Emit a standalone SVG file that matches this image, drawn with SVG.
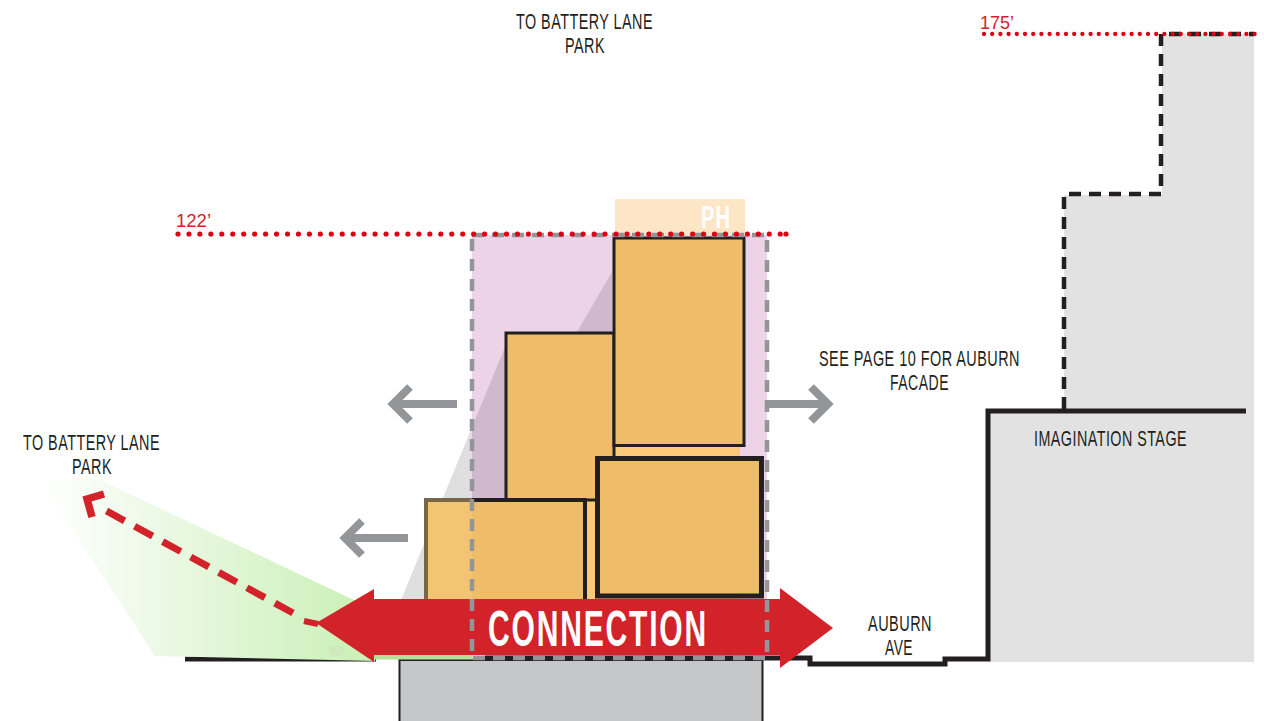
<svg xmlns="http://www.w3.org/2000/svg" width="1264" height="721" viewBox="0 0 1264 721">
<style>
.lb{font-family:"Liberation Sans Narrow","Liberation Sans",Arial,sans-serif;font-size:21.5px;letter-spacing:.7px;fill:#231f20}
.el{font-family:"Liberation Sans",Arial,sans-serif;font-size:18px;fill:#d2232a}
.hv{font-family:"Liberation Sans Narrow","Liberation Sans",Arial,sans-serif;font-weight:700;fill:#fff}
.bld{fill:#efbd68;stroke:#231f20}
.ga{fill:none;stroke:#939598;stroke-width:8}
.dot{fill:none;stroke:#dc0014;stroke-linecap:round}
</style>
<defs>
<linearGradient id="gr" gradientUnits="userSpaceOnUse" x1="40" y1="0" x2="375" y2="0">
<stop offset="0" stop-color="#fff"/><stop offset=".35" stop-color="#ecf9e6"/><stop offset="1" stop-color="#c8f0b4"/>
</linearGradient>
</defs>
<g id="site">
<path d="M185,659H376" fill="none" stroke="#231f20" stroke-width="5"/>
<polygon points="40,480 100,480 375,610 375,661 155,656" fill="url(#gr)"/>
<path d="M328,648l10,-3l8,5l-4,5l-10,1z" fill="#cfe9bd"/>
<rect x="399.500" y="660" width="363" height="62" fill="#c6c7c9" stroke="#231f20" stroke-width="2"/>
<rect x="374" y="655" width="111" height="4.500" fill="#b5e29b"/>
<polygon points="988,411 1064,411 1064,195 1162,195 1162,34 1254,34 1254,662 988,662" fill="#e2e2e2"/>
</g>
<g id="envelope">
<rect x="472" y="235" width="295" height="423" fill="#edd3e8"/>
<rect x="615" y="199" width="130" height="36" fill="#fce6c6"/>
<polygon points="612,272 577,332 505,347 401,600 612,600" fill="#231f20" fill-opacity=".14"/>
<text class="hv" x="701" y="228" font-size="31" letter-spacing="1.500" textLength="30" lengthAdjust="spacingAndGlyphs">PH</text>
<rect x="585" y="446" width="155" height="154" fill="#fcc97a"/>
</g>
<g id="bar-2"><rect class="bld" x="506" y="333" width="108" height="167" stroke-width="3"/></g>
<g id="bar-1"><rect class="bld" x="614" y="238" width="130" height="207.500" stroke-width="3"/></g>
<g id="bar-4">
<rect class="bld" x="426" y="500" width="159" height="101" stroke-width="4"/>
<rect x="428" y="502" width="44" height="99" fill="#f3c473"/>
<path d="M472,500H426V600" fill="none" stroke="#7a6548" stroke-width="4"/>
</g>
<g id="bar-3"><rect class="bld" x="597.500" y="458.500" width="164" height="137.500" stroke-width="5"/></g>
<g id="connectors">
<path d="M485,658H810V664H945V659H988V411H1246" fill="none" stroke="#231f20" stroke-width="5"/>
<path d="M1064,409V194H1161V34H1254" fill="none" stroke="#231f20" stroke-width="4.500" stroke-dasharray="12 8"/>
<polygon points="316,623 374,589 374,599 780,599 780,588 833,628 780,668 780,655 374,655 374,662" fill="#d2232a"/>
<path d="M293,613L103,509" fill="none" stroke="#d2232a" stroke-width="7" stroke-dasharray="20.600 11.400"/>
<path d="M304,621L318,624" fill="none" stroke="#d2232a" stroke-width="6"/>
<path d="M104,494L87,499L92,517" fill="none" stroke="#d2232a" stroke-width="7.500"/>
<rect x="472" y="235" width="295" height="423" fill="none" stroke="#939598" stroke-width="4.500" stroke-dasharray="12 8"/>
<path class="ga" d="M457,404H393M410,387L393,404L410,421"/>
<path class="ga" d="M408,538H345M362,521L345,538L362,555"/>
<path class="ga" d="M765,404H828M811,387L828,404L811,421"/>
<path class="dot" d="M178,234H781M786,234h.01" stroke-width="5.200" stroke-dasharray="0 10.950"/>
<path class="dot" d="M984,34H1255" stroke-width="4.300" stroke-dasharray="0 8.200"/>
</g>
<g id="labels">
<text class="lb" x="516" y="29" textLength="137" lengthAdjust="spacingAndGlyphs">TO BATTERY LANE</text>
<text class="lb" x="565" y="53" textLength="40" lengthAdjust="spacingAndGlyphs">PARK</text>
<text class="lb" x="23" y="450" textLength="137" lengthAdjust="spacingAndGlyphs">TO BATTERY LANE</text>
<text class="lb" x="72" y="474" textLength="40" lengthAdjust="spacingAndGlyphs">PARK</text>
<text class="lb" x="819" y="366" textLength="201" lengthAdjust="spacingAndGlyphs">SEE PAGE 10 FOR AUBURN</text>
<text class="lb" x="890" y="390" textLength="59" lengthAdjust="spacingAndGlyphs">FACADE</text>
<text class="lb" x="1034" y="446" textLength="153" lengthAdjust="spacingAndGlyphs">IMAGINATION STAGE</text>
<text class="lb" x="868" y="631" textLength="64" lengthAdjust="spacingAndGlyphs">AUBURN</text>
<text class="lb" x="885" y="655" textLength="28" lengthAdjust="spacingAndGlyphs">AVE</text>
<text class="el" x="176" y="227" textLength="35" lengthAdjust="spacingAndGlyphs">122’</text>
<text class="el" x="980" y="29" textLength="34" lengthAdjust="spacingAndGlyphs">175’</text>
<text class="hv" x="488" y="646" font-size="50" letter-spacing="3" textLength="220" lengthAdjust="spacingAndGlyphs">CONNECTION</text>
</g>
</svg>
